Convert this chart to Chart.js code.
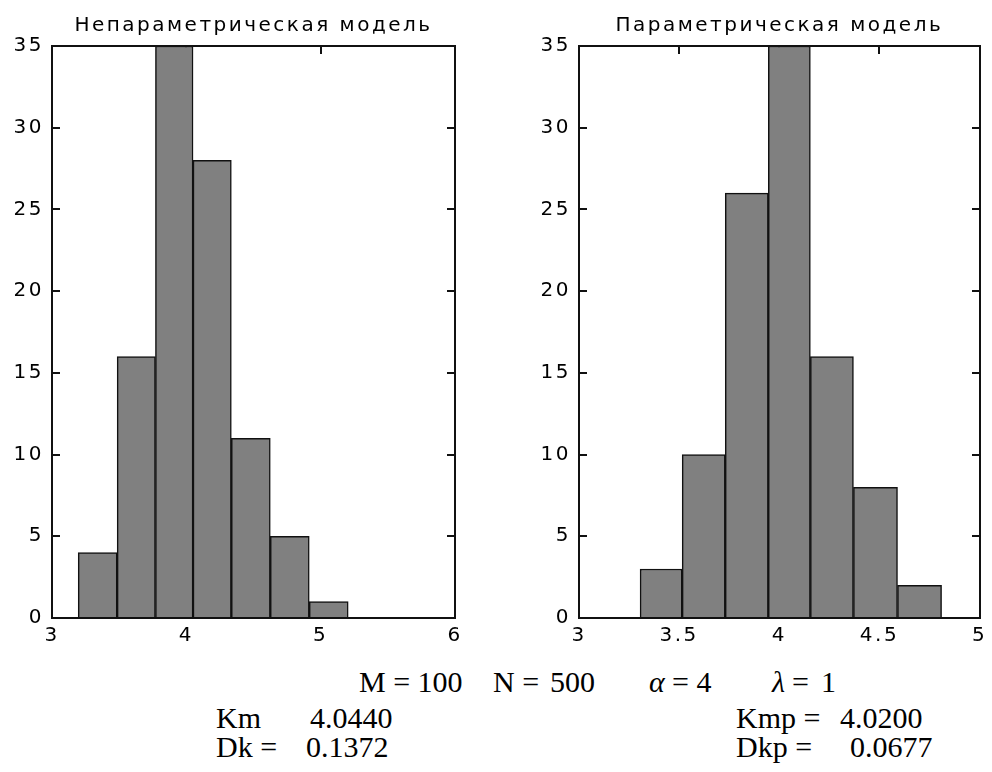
<!DOCTYPE html>
<html>
<head>
<meta charset="utf-8">
<script src="https://cdn.jsdelivr.net/npm/chart.js@4.4.0/dist/chart.umd.min.js"></script>
<style>
html, body { margin: 0; padding: 0; background: #fff; overflow: hidden; }
#page { position: relative; width: 992px; height: 772px; }
canvas { position: absolute; top: 0; }
#left { left: 0; }
#right { left: 496px; }
.t { position: absolute; font-family: "Liberation Serif", "Times New Roman", serif; font-size: 30px; line-height: 30px; white-space: pre; color: #000; }
.i { font-style: italic; }
</style>
</head>
<body>
<div id="page">
<canvas id="left" width="496" height="658"></canvas>
<canvas id="right" width="496" height="658"></canvas>

<div class="t" style="left:359px;top:667px">M = 100</div>
<div class="t" style="left:493px;top:667px">N =</div>
<div class="t" style="left:550px;top:667px">500</div>
<div class="t i" style="left:649px;top:667px">α</div>
<div class="t" style="left:672px;top:667px">= 4</div>
<div class="t i" style="left:772px;top:667px">λ</div>
<div class="t" style="left:792px;top:667px">=</div>
<div class="t" style="left:821px;top:667px">1</div>

<div class="t" style="left:216px;top:703px">Km</div>
<div class="t" style="left:310px;top:703px">4.0440</div>
<div class="t" style="left:736px;top:703px">Kmp =</div>
<div class="t" style="left:840px;top:703px">4.0200</div>

<div class="t" style="left:216px;top:732px">Dk =</div>
<div class="t" style="left:306px;top:732px">0.1372</div>
<div class="t" style="left:736px;top:732px">Dkp =</div>
<div class="t" style="left:850px;top:732px">0.0677</div>
</div>

<script>
// bin centres and counts (M = 100 samples each)
const nonparTitle = "Непараметрическая модель";
const nonparBins = [3.34, 3.63, 3.91, 4.19, 4.48, 4.77, 5.06];
const nonparCounts = [4, 16, 35, 28, 11, 5, 1];
const nonparXMin = 3, nonparXMax = 6, nonparXStep = 1;

const parTitle = "Параметрическая модель";
const parBins = [3.41, 3.62, 3.84, 4.05, 4.26, 4.48, 4.70];
const parCounts = [3, 10, 26, 35, 16, 8, 2];
const parXMin = 3, parXMax = 5, parXStep = 0.5;

const yMax = 35, yStep = 5;

Chart.defaults.color = "#000";
Chart.defaults.font.family = "'DejaVu Sans', sans-serif";

//matlab style axes: box all round, ticks pointing inwards
const boxPlugin = {
    id: "matlabBox",
    beforeDraw(chart) {
        chart.ctx.letterSpacing = "2.5px";
    },
    beforeDatasetsDraw(chart) {
        //tick marks go under the bars, like in matlab
        const { ctx, chartArea: a, scales } = chart;
        const len = 8;
        const L = Math.round(a.left), R = Math.round(a.right), T = Math.round(a.top), B = Math.round(a.bottom);
        ctx.save();
        ctx.fillStyle = "#111";
        scales.x.ticks.forEach(t => {
            const px = Math.round(scales.x.getPixelForValue(t.value));
            ctx.fillRect(px - 1, B - len, 2, len);
            ctx.fillRect(px - 1, T, 2, len);
        });
        scales.y.ticks.forEach(t => {
            const py = Math.round(scales.y.getPixelForValue(t.value));
            ctx.fillRect(L, py - 1, len, 2);
            ctx.fillRect(R - len, py - 1, len, 2);
        });
        ctx.restore();
    },
    afterDraw(chart) {
        const { ctx, chartArea: a } = chart;
        const L = Math.round(a.left), R = Math.round(a.right), T = Math.round(a.top), B = Math.round(a.bottom);
        ctx.save();
        ctx.fillStyle = "#111";
        ctx.fillRect(L - 1, T - 1, R - L + 2, 2);
        ctx.fillRect(L - 1, B - 1, R - L + 2, 2);
        ctx.fillRect(L - 1, T - 1, 2, B - T + 2);
        ctx.fillRect(R - 1, T - 1, 2, B - T + 2);
        ctx.restore();
    }
};

function drawHist(id, title, bins, counts, xMin, xMax, xStep, yWidth, padRight) {
    const ctx = document.getElementById(id).getContext("2d");
    return new Chart(ctx, {
        type: "bar",
        data: {
            datasets: [{
                data: bins.map((b, i) => ({ x: b, y: counts[i] })),
                backgroundColor: "#808080",
                borderColor: "#111",
                borderWidth: 1.5,
                barThickness: "flex",
                categoryPercentage: 1,
                barPercentage: 1
            }]
        },
        options: {
            responsive: false,
            animation: false,
            layout: { padding: { left: 0, right: padRight, top: 0, bottom: 0 } },
            plugins: {
                legend: { display: false },
                tooltip: { enabled: false },
                title: {
                    display: true,
                    text: title,
                    fullSize: false,
                    font: { size: 20, weight: "normal" },
                    padding: { top: 14, bottom: 8 }
                }
            },
            scales: {
                x: {
                    type: "linear",
                    offset: false,
                    min: xMin,
                    max: xMax,
                    grid: { display: false, drawTicks: false, offset: false },
                    border: { display: false },
                    ticks: {
                        stepSize: xStep,
                        padding: 6,
                        font: { size: 20 },
                        maxRotation: 0,
                        autoSkip: false,
                        callback: v => String(v)
                    },
                    afterFit: s => { s.height = 40; }
                },
                y: {
                    min: 0,
                    max: yMax,
                    grid: { display: false, drawTicks: false },
                    border: { display: false },
                    ticks: { stepSize: yStep, padding: 8, font: { size: 20 } },
                    afterFit: s => { s.width = yWidth; }
                }
            }
        },
        plugins: [boxPlugin]
    });
}

drawHist("left", nonparTitle, nonparBins, nonparCounts, nonparXMin, nonparXMax, nonparXStep, 52, 41);
drawHist("right", parTitle, parBins, parCounts, parXMin, parXMax, parXStep, 83, 8);
</script>
</body>
</html>
